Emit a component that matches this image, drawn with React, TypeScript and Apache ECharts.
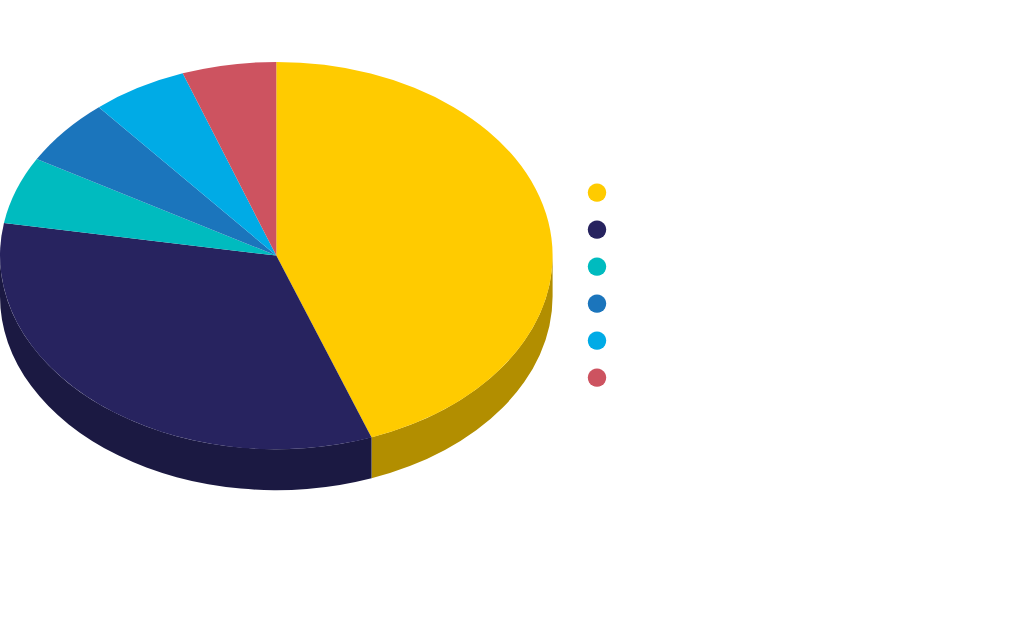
import React, { useEffect, useRef } from "react";
import * as echarts from "echarts";

// Share of each slice, in percent, clockwise from twelve o'clock.
const sliceValues = [44.4, 33.3, 5.6, 5.6, 5.6, 5.5];

const topColors = ["#FFCB00", "#27235F", "#00BBBF", "#1B75BC", "#00ABE6", "#CD5360"];
const wallColors = ["#B28E00", "#1B1942", "#008386", "#135284", "#0078A1", "#8F3A43"];

const CX = 276.3;
const CY = 255.6;
const RX = 276.3;
const RY = 193.6;
const DEPTH = 41;
const DOT_X = 597;
const DOT_Y0 = 192.6;
const DOT_GAP = 37;
const DOT_R = 9.2;

const total = sliceValues.reduce((a, b) => a + b, 0);
const startShare = (i: number) =>
  sliceValues.slice(0, i).reduce((a, b) => a + b, 0) / total;

const rad = (deg: number) => (deg * Math.PI) / 180;
const px = (deg: number) => CX + RX * Math.sin(rad(deg));
const py = (deg: number, dy = 0) => CY - RY * Math.cos(rad(deg)) + dy;

function wallPath(a0: number, a1: number) {
  return [
    `M ${px(a0)} ${py(a0)}`,
    `A ${RX} ${RY} 0 0 1 ${px(a1)} ${py(a1)}`,
    `L ${px(a1)} ${py(a1, DEPTH)}`,
    `A ${RX} ${RY} 0 0 0 ${px(a0)} ${py(a0, DEPTH)}`,
    "Z",
  ].join(" ");
}

export default function App() {
  const ref = useRef<HTMLDivElement>(null);

  useEffect(() => {
    document.body.style.margin = "0";
    const chart = echarts.init(ref.current!, undefined, { renderer: "svg" });
    chart.setOption({
      animation: false,
      backgroundColor: "#FFFFFF",
      tooltip: { show: false },
      series: [
        {
          type: "custom",
          coordinateSystem: "none",
          silent: true,
          data: sliceValues.map((v) => [v]),
          renderItem: (params: any, api: any) => {
            const i = params.dataIndex;
            const a0 = startShare(i) * 360;
            const a1 = a0 + (api.value(0) / total) * 360;
            const children: any[] = [];
            const w0 = Math.max(a0, 90);
            const w1 = Math.min(a1, 270);
            if (w1 > w0) {
              children.push({
                type: "path",
                shape: { pathData: wallPath(w0, w1) },
                style: { fill: wallColors[i] },
              });
            }
            children.push({
              type: "sector",
              x: CX,
              y: CY,
              scaleY: RY / RX,
              shape: {
                cx: 0,
                cy: 0,
                r0: 0,
                r: RX,
                startAngle: rad(a0 - 90),
                endAngle: rad(a1 - 90),
                clockwise: true,
              },
              style: { fill: topColors[i] },
            });
            children.push({
              type: "circle",
              shape: { cx: DOT_X, cy: DOT_Y0 + i * DOT_GAP, r: DOT_R },
              style: { fill: topColors[i] },
            });
            return { type: "group", children };
          },
        },
      ],
    });
    return () => chart.dispose();
  }, []);

  return <div ref={ref} style={{ width: 1024, height: 633 }} />;
}
